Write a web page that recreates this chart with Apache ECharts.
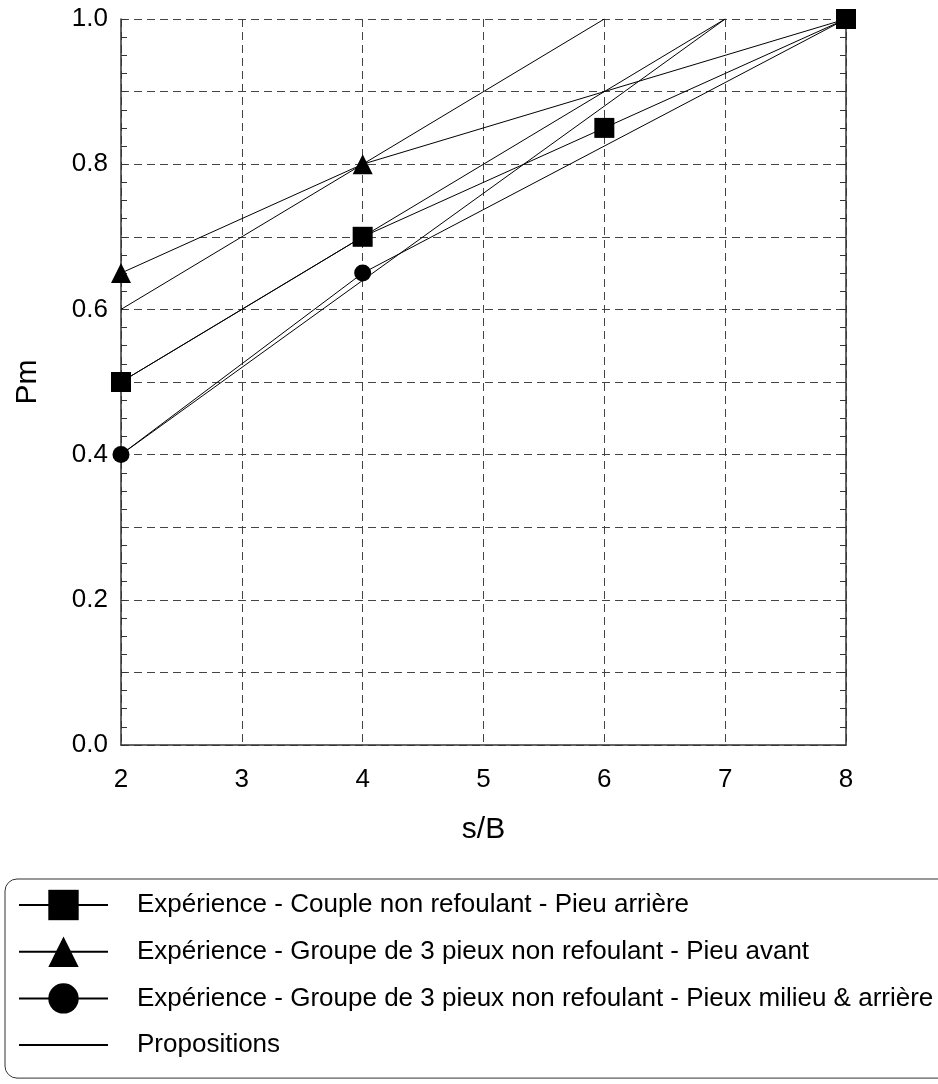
<!DOCTYPE html>
<html>
<head>
<meta charset="utf-8">
<script src="https://cdn.jsdelivr.net/npm/echarts@6/dist/echarts.min.js"></script>
<style>html,body{margin:0;padding:0;background:#fff}#c{width:938px;height:1084px}</style>
</head>
<body>
<div id="c"></div>
<script>
// Data
const nameSquare = 'Expérience - Couple non refoulant - Pieu arrière';
const nameTriangle = 'Expérience - Groupe de 3 pieux non refoulant - Pieu avant';
const nameCircle = 'Expérience - Groupe de 3 pieux non refoulant - Pieux milieu & arrière';
const nameProp = 'Propositions';

const squareData = [[2, 0.5], [4, 0.7], [6, 0.85], [8, 1.0]];
const triangleData = [[2, 0.65], [4, 0.8], [8, 1.0]];
const circleData = [[2, 0.4], [4, 0.65], [8, 1.0]];
const propA = [[2, 0.6], [6, 1.0]];
const propB = [[2, 0.5], [7, 1.0]];
const propC = [[2, 0.4], [7, 1.0]];

const xTicks = [2, 3, 4, 5, 6, 7, 8];
const yLabelTicks = [0.0, 0.2, 0.4, 0.6, 0.8, 1.0];

const FONT = '"Liberation Sans", Arial, sans-serif';
const chart = echarts.init(document.getElementById('c'), null, {renderer: 'canvas'});

function propSeries(d) {
  return {
    name: nameProp, type: 'line', data: d, symbol: 'none', clip: false,
    lineStyle: {color: '#000', width: 1}, itemStyle: {color: '#000'}, z: 2
  };
}
function markSeries(name, d, sym, size) {
  return {
    name: name, type: 'line', data: d, symbol: sym, symbolSize: size, clip: false,
    lineStyle: {color: '#000', width: 1}, itemStyle: {color: '#000'}, z: 3
  };
}

const gridLine = {show: true, lineStyle: {color: '#444', type: [8, 5], width: 1}};

const option = {
  animation: false,
  backgroundColor: '#fff',
  grid: {left: 121, right: 92, top: 19, bottom: 339},
  xAxis: {
    type: 'value', min: 2, max: 8, interval: 1,
    name: 's/B', nameLocation: 'middle', nameGap: 70,
    nameTextStyle: {fontFamily: FONT, fontSize: 30, color: '#000'},
    axisLine: {show: true, onZero: false, lineStyle: {color: '#333', width: 1.5}},
    axisTick: {show: false},
    axisLabel: {
      fontFamily: FONT, fontSize: 26, color: '#000', margin: 22,
      formatter: v => xTicks.indexOf(v) >= 0 ? String(v) : ''
    },
    splitLine: gridLine
  },
  yAxis: [{
    type: 'value', min: 0, max: 1, interval: 0.1, position: 'left',
    name: 'Pm', nameLocation: 'middle', nameGap: 78,
    nameTextStyle: {fontFamily: FONT, fontSize: 30, color: '#000'},
    axisLine: {show: true, onZero: false, lineStyle: {color: '#333', width: 1.5}},
    axisTick: {show: true, inside: true, length: 6, lineStyle: {color: '#333'}},
    minorTick: {show: true, splitNumber: 4, length: 6, lineStyle: {color: '#333'}},
    axisLabel: {
      fontFamily: FONT, fontSize: 26, color: '#000', margin: 13,
      formatter: v => {
        const r = Math.round(v * 10) / 10;
        return yLabelTicks.some(t => Math.abs(t - r) < 1e-9) ? r.toFixed(1) : '';
      }
    },
    splitLine: gridLine
  }, {
    type: 'value', min: 0, max: 1, interval: 0.1, position: 'right',
    axisLine: {show: true, onZero: false, lineStyle: {color: '#333', width: 1.5}},
    axisTick: {show: true, inside: true, length: 6, lineStyle: {color: '#333'}},
    minorTick: {show: true, splitNumber: 4, length: 6, lineStyle: {color: '#333'}},
    axisLabel: {show: false},
    splitLine: {show: false}
  }],
  legend: {
    orient: 'vertical', left: 5, top: 879,
    data: [nameSquare, nameTriangle, nameCircle,
      {name: nameProp, itemStyle: {color: 'rgba(0,0,0,0)', borderWidth: 0, opacity: 0}}],
    itemWidth: 89, itemHeight: 38, itemGap: 8.7,
    padding: [7, 40, 14, 13],
    borderColor: '#333', borderWidth: 1, borderRadius: 12,
    textStyle: {fontFamily: FONT, fontSize: 26, lineHeight: 38, color: '#000', padding: [0, 0, 0, 24]},
    inactiveColor: '#000',
    selectedMode: false
  },
  series: [
    propSeries(propA),
    propSeries(propB),
    propSeries(propC),
    markSeries(nameCircle, circleData, 'circle', 17),
    markSeries(nameTriangle, triangleData, 'triangle', 20),
    markSeries(nameSquare, squareData, 'rect', 20)
  ]
};
chart.setOption(option);
</script>
</body>
</html>
